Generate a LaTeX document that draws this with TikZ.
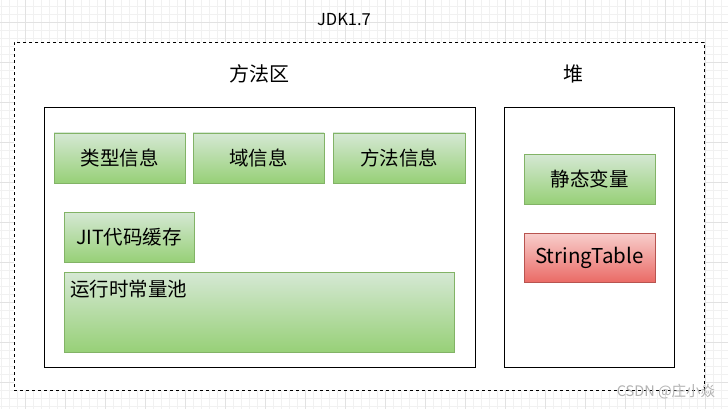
\documentclass[tikz,border=0pt]{standalone}
\usepackage{fontspec}
\setmainfont{Noto Sans CJK SC}
\usetikzlibrary{positioning,fit,calc}
\definecolor{gridmajor}{RGB}{226,226,226}
\definecolor{gridminor}{RGB}{241,241,241}
\definecolor{greenline}{RGB}{130,179,102}
\definecolor{greentop}{RGB}{213,232,212}
\definecolor{greenbot}{RGB}{151,208,119}
\definecolor{redline}{RGB}{184,84,80}
\definecolor{redtop}{RGB}{248,206,204}
\definecolor{redbot}{RGB}{234,107,102}
\newcommand{\boxfont}{\fontsize{19.5}{22}\selectfont}

\begin{document}
\begin{tikzpicture}[x=1pt,y=-1pt,
    every node/.style={align=center,inner sep=0pt},
    area/.style={draw=black,line width=0.9pt,fill=white},
    greenbox/.style={draw=greenline,line width=0.8pt,top color=greentop,bottom color=greenbot,minimum height=50pt,font=\boxfont},
    redbox/.style={draw=redline,line width=0.8pt,top color=redtop,bottom color=redbot,minimum height=50pt,font=\boxfont},
    title/.style={font=\fontsize{20}{23}\selectfont}]
  \useasboundingbox (0,0) rectangle (728,409);
  % background grid
  \fill[white] (0,0) rectangle (728,409);
  \foreach \gx in {1,9,...,727} \draw[gridminor,line width=0.5pt] (\gx,0) -- (\gx,409);
  \foreach \gy in {6,14,...,406} \draw[gridminor,line width=0.5pt] (0,\gy) -- (728,\gy);
  \foreach \gx in {25,65,...,705} \draw[gridmajor,line width=0.6pt] (\gx,0) -- (\gx,409);
  \foreach \gy in {22,62,...,382} \draw[gridmajor,line width=0.6pt] (0,\gy) -- (728,\gy);

  \node[draw,dashed,line width=0.8pt,fill=white,minimum width=690pt,minimum height=348pt,anchor=north west] (jdk) at (14,42) {};
  \node[font=\fontsize{16.5}{19}\selectfont] (jdklabel) at (344,20) {JDK1.7};

  \node[area,minimum width=431pt,minimum height=260pt,anchor=north west] (method) at (44,107) {};
  \node[area,minimum width=170pt,minimum height=260pt,anchor=north west] (heap) at (504,107) {};
  \node[title] (methodtitle) at (259,74) {方法区};
  \node[title] (heaptitle) at (573,74) {堆};

  \node[greenbox,minimum width=131pt] (typeinfo) at (119.5,158) {类型信息};
  \node[greenbox,minimum width=131pt] (fieldinfo) at (258.5,158) {域信息};
  \node[greenbox,minimum width=132pt] (methodinfo) at (399,158) {方法信息};
  \node[greenbox,minimum width=130pt] (jitcache) at (129,237) {JIT代码缓存};
  \node[greenbox,minimum width=390pt,minimum height=80pt,anchor=north west,
    label={[anchor=north west,font=\boxfont,xshift=6pt,yshift=-8pt]north west:运行时常量池}] (constpool) at (64,272) {};

  \node[greenbox,minimum width=131pt] (staticvar) at (589.5,179) {静态变量};
  \node[redbox,minimum width=131pt,minimum height=49pt,font=\fontsize{20.5}{23}\selectfont] (strtable) at (589.5,257.5) {StringTable};

  \node[font=\fontsize{14.5}{17}\selectfont,text=gray!60] (mark) at (666,392) {CSDN @庄小焱};
\end{tikzpicture}
\end{document}
